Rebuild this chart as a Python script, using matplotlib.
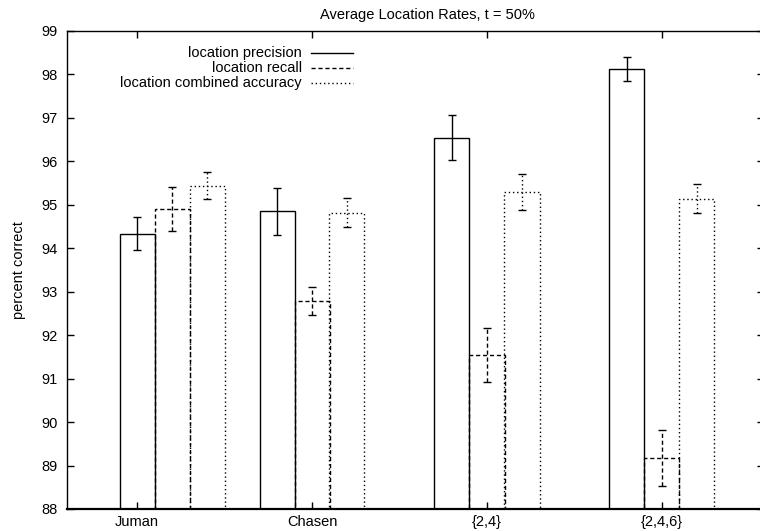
import numpy as np
import matplotlib
matplotlib.use('Agg')
import matplotlib.pyplot as plt
from matplotlib.lines import Line2D

plt.rcParams['font.family'] = ['Liberation Sans', 'DejaVu Sans']
plt.rcParams['font.size'] = 10.5

# data
categories = ['Juman', 'Chasen', '{2,4}', '{2,4,6}']
precision = [94.33, 94.85, 96.54, 98.12]
precision_err = [0.38, 0.54, 0.52, 0.28]
recall = [94.90, 92.79, 91.55, 89.17]
recall_err = [0.51, 0.33, 0.62, 0.64]
combined = [95.44, 94.82, 95.30, 95.14]
combined_err = [0.31, 0.33, 0.41, 0.33]
series_names = ['location precision', 'location recall',
                'location combined accuracy']

w = 0.2
base = 88
xt = np.arange(len(categories))
# the first group sits one bar width further right than the others
shift = np.array([w, 0, 0, 0])
xc = xt + shift

fig = plt.figure(figsize=(7.6, 5.31), dpi=100)
ax = fig.add_axes([67/760, 22/531, 696.5/760, 478/531])

styles = ['-', (0, (3, 2)), (0, (1, 2))]
vals = [precision, recall, combined]
errs = [precision_err, recall_err, combined_err]
offs = [-w, 0, w]
for v, e, ls, o in zip(vals, errs, styles, offs):
    v = np.array(v)
    ax.bar(xc + o, v - base, bottom=base, width=w, fill=False,
           edgecolor='black', linewidth=1.0, linestyle=ls)
    eb = ax.errorbar(xc + o, v, yerr=e, fmt='none', ecolor='black',
                     elinewidth=1.0, capsize=2.6, capthick=1.0)
    for lc in eb[2]:
        lc.set_linestyle(ls)

ax.set_xlim(-0.4, 3.58)
ax.set_ylim(88, 99)
ax.set_yticks(np.arange(88, 100, 1))
ax.set_xticks(xt)
ax.set_xticklabels(categories)
ax.tick_params(direction='in', length=5, width=1, top=True, right=True)
ax.tick_params(axis='y', pad=7)
ax.tick_params(axis='x', pad=4)
for s in ax.spines.values():
    s.set_linewidth(1.0)
ax.spines['bottom'].set_linewidth(1.6)

fig.text(427/760, 1 - 15/531, 'Average Location Rates, t = 50%',
         ha='center', va='center')
fig.text(19/760, 1 - 270/531, 'percent correct', rotation=90,
         ha='center', va='center')

# legend, text right aligned with the sample line after it
ly = [53, 68, 83]
for name, ls, y in zip(series_names, styles, ly):
    fig.text(302/760, 1 - y/531, name, ha='right', va='center')
    fig.add_artist(Line2D([311/760, 353/760], [1 - y/531, 1 - y/531],
                          color='black', linewidth=1.0, linestyle=ls))

fig.savefig('out.png', dpi=100)
